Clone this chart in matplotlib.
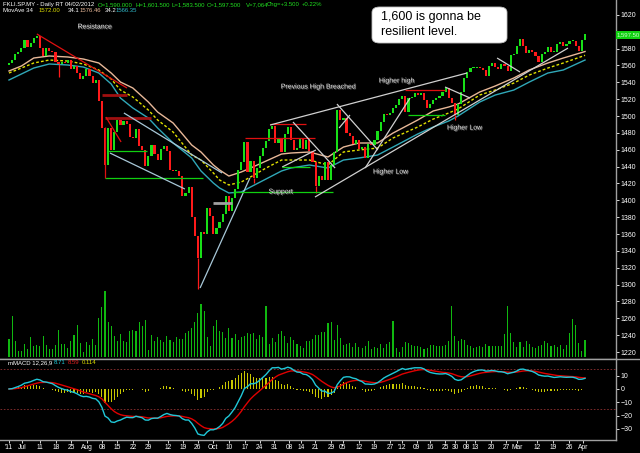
import numpy as np
import pandas as pd
import matplotlib
matplotlib.use("Agg")
import matplotlib.pyplot as plt
import matplotlib.patheffects as pe
from matplotlib.patches import FancyBboxPatch

plt.rcParams['font.family'] = ['Liberation Sans', 'DejaVu Sans']

# ---- daily closes FKLI (one per bar) ----
closes = [
    1563, 1566, 1574, 1576, 1581, 1590, 1582, 1587, 1593, 1595,
    1581, 1571, 1581, 1577, 1576, 1564, 1562, 1564, 1563, 1566,
    1556, 1559, 1551, 1544, 1547, 1556, 1547, 1539, 1543, 1518,
    1486, 1442, 1486, 1460, 1481, 1495, 1489, 1494, 1491, 1475,
    1474, 1485, 1464, 1460, 1441, 1453, 1466, 1455, 1448, 1461,
    1464, 1458, 1436, 1435, 1435, 1429, 1405, 1409, 1416, 1380,
    1358, 1332, 1362, 1360, 1391, 1381, 1360, 1367, 1374, 1384,
    1405, 1387, 1403, 1413, 1436, 1445, 1469, 1434, 1447, 1426,
    1438, 1453, 1462, 1470, 1485, 1488, 1468, 1474, 1457, 1479,
    1487, 1472, 1460, 1462, 1474, 1461, 1472, 1458, 1445, 1417,
    1429, 1424, 1445, 1424, 1442, 1457, 1507, 1495, 1498, 1480,
    1476, 1467, 1471, 1461, 1463, 1450, 1467, 1466, 1472, 1482,
    1493, 1502, 1501, 1504, 1509, 1513, 1520, 1524, 1505, 1521,
    1523, 1527, 1525, 1527, 1519, 1509, 1514, 1519, 1521, 1524,
    1528, 1533, 1521, 1515, 1501, 1514, 1528, 1545, 1552, 1557,
    1557, 1558, 1557, 1555, 1547, 1559, 1563, 1558, 1556, 1562,
    1559, 1553, 1572, 1574, 1583, 1591, 1583, 1575, 1578, 1576,
    1571, 1564, 1574, 1576, 1582, 1576, 1576, 1585, 1588, 1583,
    1585, 1589, 1589, 1583, 1577, 1590, 1597.5,
]
first_open = 1560

# long lower shadows that stand out
wick_idx = [16, 61, 79, 99, 144]
wick_low = [1546, 1295, 1420, 1409, 1495]

# volume (relative, from bar heights)
volume = [
    18, 41, 16, 6, 6, 13, 8, 20, 11, 12,
    11, 21, 12, 8, 8, 12, 27, 13, 13, 9,
    16, 22, 32, 14, 5, 15, 12, 18, 12, 39,
    50, 66, 35, 31, 21, 16, 23, 16, 15, 26,
    27, 26, 35, 31, 37, 7, 22, 16, 20, 17,
    15, 21, 17, 15, 20, 18, 18, 24, 26, 29,
    35, 44, 53, 46, 20, 11, 31, 37, 26, 25,
    19, 29, 19, 23, 17, 20, 21, 24, 23, 24,
    18, 22, 20, 51, 13, 19, 15, 23, 26, 21,
    14, 20, 17, 13, 11, 9, 16, 16, 18, 22,
    22, 25, 25, 34, 35, 17, 32, 19, 12, 13,
    14, 10, 14, 10, 9, 11, 16, 8, 10, 9,
    13, 9, 13, 15, 36, 9, 5, 10, 15, 14,
    12, 11, 11, 10, 8, 9, 12, 12, 11, 11,
    11, 12, 16, 51, 21, 16, 18, 17, 12, 11,
    9, 10, 11, 10, 13, 11, 11, 11, 11, 11,
    23, 51, 24, 15, 10, 15, 10, 16, 13, 10,
    9, 11, 12, 16, 14, 11, 12, 10, 12, 8,
    12, 24, 38, 32, 14, 6, 17,
]

# MovAve 34 lines (at these bars)
ma_idx = [0, 4, 8, 13, 19, 24, 29, 33, 36, 40, 45, 48, 53, 59, 62, 66, 68, 71, 75, 78,
          83, 88, 91, 97, 103, 108, 113, 119, 124, 132, 137, 142, 145, 152, 157, 163, 168, 174, 179, 186]
ma_high = [1553.4, 1559.3, 1568.8, 1571.2, 1570.0, 1567.6, 1562.9, 1551.0, 1540.3, 1533.2,
           1516.6, 1504.7, 1491.7, 1465.6, 1457.3, 1441.9, 1436.0, 1428.8, 1433.6, 1438.3,
           1446.6, 1454.9, 1456.1, 1457.3, 1451.4, 1463.2, 1468.0, 1468.0, 1479.8, 1495.3,
           1506.0, 1510.7, 1514.2, 1528.5, 1535.6, 1545.1, 1554.6, 1562.9, 1568.8, 1576.5]
ma_close = [1551.0, 1556.9, 1562.9, 1566.4, 1565.2, 1561.7, 1554.6, 1543.9, 1530.8, 1522.5,
            1507.1, 1495.3, 1481.0, 1453.7, 1447.8, 1432.4, 1424.1, 1418.2, 1421.7, 1427.7,
            1438.3, 1447.8, 1447.8, 1447.8, 1441.9, 1457.3, 1459.7, 1462.0, 1473.9, 1487.0,
            1496.4, 1503.6, 1508.3, 1524.9, 1530.8, 1539.1, 1548.6, 1556.9, 1562.9, 1572.0]
ma_low = [1542.7, 1549.8, 1556.9, 1561.7, 1560.5, 1558.1, 1551.0, 1538.0, 1521.3, 1509.5,
          1497.6, 1485.8, 1468.0, 1450.2, 1434.8, 1420.5, 1414.6, 1408.7, 1409.9, 1415.8,
          1425.3, 1434.8, 1438.3, 1441.9, 1438.3, 1447.8, 1450.2, 1453.7, 1463.2, 1478.7,
          1487.0, 1494.1, 1500.0, 1516.6, 1524.9, 1530.8, 1540.3, 1551.0, 1554.6, 1566.4]

# hand drawn lines: (bar0, price0, bar1, price1, kind)
trend_lines = [
    (9.0, 1597.3, 38.1, 1533.2, 'red'),
    (30.0, 1524.9, 38.1, 1524.9, 'darkred'),
    (31.0, 1497.6, 45.9, 1497.6, 'darkred'),
    (31.3, 1498.8, 36.2, 1469.2, 'red'),
    (32.0, 1458.5, 44.6, 1458.5, 'green'),
    (31.0, 1426.5, 62.6, 1426.5, 'green'),
    (31.0, 1487.0, 31.0, 1426.5, 'red'),
    (37.1, 1503.6, 68.8, 1432.4, 'blue'),
    (32.6, 1456.1, 56.8, 1413.4, 'blue'),
    (61.7, 1296.0, 77.8, 1426.5, 'blue'),
    (65.9, 1396.8, 72.0, 1396.8, 'grey'),
    (72.3, 1409.9, 104.6, 1409.9, 'green'),
    (76.2, 1473.9, 98.8, 1473.9, 'red'),
    (84.3, 1490.5, 95.9, 1490.5, 'red'),
    (84.3, 1489.3, 147.9, 1551.0, 'white'),
    (91.7, 1492.9, 105.3, 1438.3, 'white'),
    (88.2, 1439.5, 99.1, 1459.7, 'white'),
    (88.2, 1439.5, 97.2, 1439.5, 'green'),
    (98.8, 1403.9, 180.5, 1580.6, 'white'),
    (115.0, 1438.3, 129.5, 1521.3, 'white'),
    (105.9, 1514.2, 119.1, 1459.7, 'white'),
    (106.6, 1485.8, 110.1, 1501.2, 'white'),
    (127.9, 1530.8, 140.8, 1530.8, 'red'),
    (128.8, 1501.2, 140.8, 1501.2, 'green'),
    (140.8, 1534.4, 148.9, 1521.3, 'white'),
    (157.6, 1568.8, 165.0, 1552.2, 'white'),
]

notes = [
    (27.8, 1605.6, 'Resistance'),
    (100.1, 1534.4, 'Previous High Breached'),
    (125.3, 1541.5, 'Higher high'),
    (123.3, 1433.6, 'Higher Low'),
    (147.2, 1485.8, 'Higher Low'),
    (87.8, 1409.9, 'Support'),
]

tick_pos = [0, 4.2, 10, 15.2, 20, 25.2, 30, 34.9, 40, 44.9, 51.3, 56.2, 61, 65.9, 71, 76.2,
            81, 85.6, 90.4, 94.3, 98.8, 104, 107.8, 113, 117.9, 123, 126.9, 131.7, 136,
            140.8, 144, 147.6, 150.5, 155.6, 160.6, 164.0, 170.5, 175.7, 180.8, 185.3]
tick_lab = ["'11", "Jul", "11", "18", "25", "Aug", "08", "15", "22", "29", "12", "19", "26",
            "Oct", "10", "17", "24", "31", "08", "14", "21", "29", "05", "12", "19", "27",
            "'12", "09", "16", "25", "30", "08", "13", "20", "27", "Mar", "12", "19", "26", "Apr"]

line_style = {
    'red': ('#e01010', 0.9),
    'darkred': ('#a01010', 2.0),
    'green': ('#10d010', 0.9),
    'blue': ('#a8c8d8', 0.9),
    'grey': ('#a0a0a0', 2.0),
    'white': ('#d0d0d0', 0.9),
}

W, H = 640, 453
fig = plt.figure(figsize=(6.4, 4.53), dpi=100, facecolor='black')


def px_axes(x0, y0, x1, y1):
    return fig.add_axes([x0 / W, 1 - y1 / H, (x1 - x0) / W, (y1 - y0) / H])


def ftext(x, y, s, color, size=4.3, **kw):
    fig.text(x / W, 1 - y / H, s, color=color, fontsize=size, va='center', ha='left', **kw)


ax = px_axes(0, 0, 616, 359)
axm = px_axes(0, 359, 616, 440)

# volume underneath the candles (twin made first, so price ticks stay on the right)
axv = ax.twinx()
axv.set_ylim(-2, 357)
axv.set_xlim(-2.9, 196.0)
axv.set_axis_off()
axv.bar(np.arange(len(volume)), volume, width=0.35, color='#10b810', zorder=1)

for a in (ax, axm):
    a.set_facecolor('black')
    a.set_xlim(-2.9, 196.0)
    for side in ('top', 'left'):
        a.spines[side].set_visible(False)
    for side in ('right', 'bottom'):
        a.spines[side].set_color('#a0a0a0')
        a.spines[side].set_linewidth(1.0)
    a.yaxis.tick_right()
    a.yaxis.set_label_position('right')
    a.tick_params(axis='y', which='both', left=False, labelleft=False, right=True,
                  labelright=True, colors='white', labelsize=5, length=2, width=0.6, pad=1.5)

price_ticks = np.arange(1220, 1621, 20)
ax.set_ylim(1211.8, 1637.6)
ax.set_yticks(price_ticks)
# 1600 sits under the last-price tag
ax.set_yticklabels(['' if t == 1600 else str(t) for t in price_ticks])
ax.set_xticks([])

# candles
n = len(closes)
idx = np.arange(n)
opens = [first_open] + closes[:-1]
lo = [min(o, c) for o, c in zip(opens, closes)]
hi_body = [max(abs(c - o), 0.8) for o, c in zip(opens, closes)]
colors = ['#18e018' if c >= o else '#ff1a1a' for o, c in zip(opens, closes)]
ax.vlines(wick_idx, wick_low, [lo[i] for i in wick_idx],
          colors=[colors[i] for i in wick_idx], lw=0.9, zorder=3)

# moving averages
ax.plot(ma_idx, ma_high, color='#e8b898', lw=1.0, zorder=2)
ax.plot(ma_idx, ma_close, color='#e0e000', lw=1.0, ls=(0, (2, 1.5)), zorder=2)
ax.plot(ma_idx, ma_low, color='#30a8b8', lw=1.0, zorder=2)

ax.bar(idx, hi_body, bottom=lo, width=0.7, color=colors, linewidth=0, zorder=3)

for x0, p0, x1, p1, kind in trend_lines:
    col, lw = line_style[kind]
    ax.plot([x0, x1], [p0, p1], color=col, lw=lw, zorder=4, solid_capstyle='butt')

for x, p, s in notes:
    ax.text(x, p, s, color='#e0e0e0', fontsize=5.0, ha='center', va='center', zorder=5,
            path_effects=[pe.withSimplePatchShadow(offset=(0.6, -0.6),
                                                    shadow_rgbFace='#707070', alpha=1)])

# MACD
s = pd.Series(closes, dtype=float)
macd = s.ewm(span=12, adjust=False).mean() - s.ewm(span=26, adjust=False).mean()
signal = macd.ewm(span=9, adjust=False).mean()
hist = macd - signal
axm.set_ylim(-38.3, 22.5)
axm.set_yticks([10, 0, -10, -20, -30])
axm.axhline(15, color='#903030', lw=0.6, ls=(0, (2, 2)))
axm.axhline(-15, color='#903030', lw=0.6, ls=(0, (2, 2)))
axm.bar(idx, hist, width=0.35, color='#c8c800', zorder=2)
axm.plot(idx, signal, color='#e00000', lw=1.0, zorder=3)
axm.plot(idx, macd, color='#20c8d8', lw=1.0, zorder=4)
axm.set_xticks(tick_pos)
axm.set_xticklabels(tick_lab)
axm.tick_params(axis='x', colors='white', labelsize=4.8, length=2, width=0.6, pad=1)

# panel separator across full width
fig.add_artist(plt.Line2D([0, 1], [1 - 359 / H, 1 - 359 / H], color='#a0a0a0', lw=1.0))

# header lines
ftext(3, 4.5, 'FKLI.SP.MY - Daily RT', 'white')
ftext(65, 4.5, '04/02/2012', 'white')
ftext(98, 4.5, 'O=1,590.000', '#20e020')
ftext(136, 4.5, 'H=1,601.500', '#20e020')
ftext(171, 4.5, 'L=1,583.500', '#20e020')
ftext(207, 4.5, 'C=1,597.500', '#20e020')
ftext(246, 4.5, 'V=7,064', '#20e020')
ftext(267, 4.5, 'Chg=+3.500', '#20e020')
ftext(302, 4.5, '+0.22%', '#20e020')
ftext(3, 11, 'MovAve 34', 'white')
ftext(39, 11, '1572.00', '#e0e000')
ftext(68, 11, '34.1', 'white')
ftext(80, 11, '1576.46', '#e8b898')
ftext(105, 11, '34.2', 'white')
ftext(116, 11, '1566.35', '#30b8c8')

ftext(8, 363, 'mMACD 12,26,9', 'white')
ftext(54, 363, '8.71', '#20c8d8')
ftext(68, 363, '8.59', '#e02020')
ftext(82, 363, '0.114', '#e0e000')

# last price tag
ftext(617, 35, '1,597.50', '#c8ffc8', size=4.3,
      bbox=dict(facecolor='#10d010', edgecolor='none', pad=0.8))

# callout
box = FancyBboxPatch((372 / W, 1 - 43 / H), 135 / W, 36 / H,
                     boxstyle='round,pad=0,rounding_size=0.012',
                     transform=fig.transFigure, facecolor='white', edgecolor='#c0c0c0', lw=0.6)
fig.add_artist(box)
ftext(381, 24.5, '1,600 is gonna be\nresilient level.', 'black', size=9, linespacing=1.3)

fig.savefig('out.png', dpi=100, facecolor='black')
